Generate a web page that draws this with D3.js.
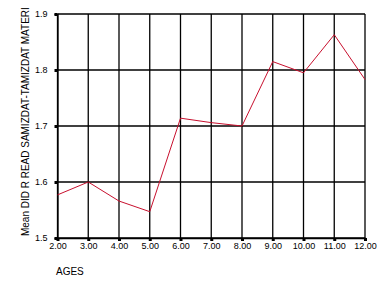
<!DOCTYPE html>
<html><head><meta charset="utf-8">
<script src="https://cdn.jsdelivr.net/npm/d3@7"></script>
<style>body{margin:0;background:#fff;}svg{display:block;}</style>
</head><body>
<script>
const ages = [2,3,4,5,6,7,8,9,10,11,12];
const means = [1.577,1.600,1.566,1.547,1.714,1.706,1.700,1.815,1.795,1.863,1.783];
const yTicks = [1.5,1.6,1.7,1.8,1.9];
const yLabel = "Mean DID R READ SAMIZDAT-TAMIZDAT MATERI";
const xLabel = "AGES";

const W=380,H=284;
const svg=d3.select("body").append("svg").attr("width",W).attr("height",H);
const x=d3.scaleLinear().domain([2,12]).range([57.5,365]);
const y=d3.scaleLinear().domain([1.5,1.9]).range([238,14]);
const font="Liberation Sans, Arial, sans-serif";

// grid
svg.append("g").selectAll("line").data(yTicks).join("line")
 .attr("x1",x(2)).attr("x2",x(12)).attr("y1",d=>y(d)).attr("y2",d=>y(d))
 .attr("stroke","#000").attr("stroke-width",1.3);
svg.append("g").selectAll("line").data(ages).join("line")
 .attr("x1",d=>x(d)).attr("x2",d=>x(d)).attr("y1",y(1.5)).attr("y2",y(1.9))
 .attr("stroke","#000").attr("stroke-width",1.3);

// axes
const ya=svg.append("g").attr("transform",`translate(${x(2)},0)`)
 .call(d3.axisLeft(y).tickValues(yTicks).tickFormat(d3.format(".1f")).tickSize(3).tickPadding(7));
ya.select(".domain").attr("stroke-width",1.3);
ya.selectAll(".tick line").attr("stroke-width",3);
ya.selectAll("text").attr("font-family",font).attr("font-size",9).attr("fill","#000");

const xa=svg.append("g").attr("transform",`translate(0,${y(1.5)})`)
 .call(d3.axisBottom(x).tickValues(ages).tickFormat(d3.format(".2f")).tickSize(3).tickPadding(2));
xa.select(".domain").attr("stroke-width",1.3);
xa.selectAll(".tick line").attr("stroke-width",3);
xa.selectAll("text").attr("font-family",font).attr("font-size",9).attr("fill","#000");

// line
svg.append("path").datum(ages.map((a,i)=>[a,means[i]]))
 .attr("d",d3.line().x(d=>x(d[0])).y(d=>y(d[1])))
 .attr("fill","none").attr("stroke","#c8102e").attr("stroke-width",1);

// labels
const yl=svg.append("text").attr("text-anchor","start").attr("font-family",font).attr("font-size",11).text(yLabel);
const len=yl.node().getComputedTextLength();
const sx=Math.min(1,229/len);
yl.attr("transform",`translate(29,236) rotate(-90) scale(${sx},1)`);
svg.append("text").attr("x",56).attr("y",275).attr("font-family",font).attr("font-size",10).text(xLabel);
</script>
</body></html>
